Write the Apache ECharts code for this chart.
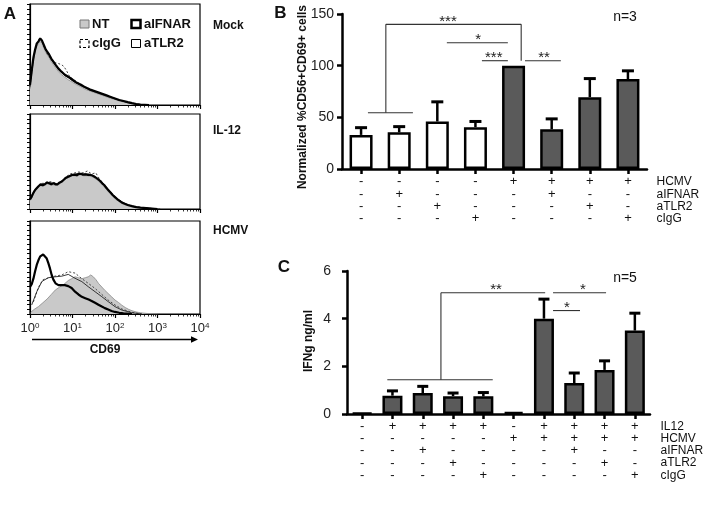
<!DOCTYPE html>
<html><head><meta charset="utf-8">
<script src="https://cdn.jsdelivr.net/npm/echarts@6.0.0/dist/echarts.min.js"></script>
<style>html,body{margin:0;padding:0;background:#fff}#c{width:708px;height:505px}</style>
</head><body><div id="c"></div>
<script>
// ---------- Panel A: flow histograms (x = log10 CD69 decade, y = % of panel height) ----------
const decadeTicks = [0, 1, 2, 3, 4];
const histNames = ['NT', 'aIFNAR', 'cIgG', 'aTLR2'];
const panelLabels = ['Mock', 'IL-12', 'HCMV'];

const mockNT = [[0,16],[0.04,30],[0.08,43],[0.12,52],[0.16,58],[0.2,61],[0.24,63],[0.28,61],[0.32,57],[0.36,53],[0.4,50],[0.45,47],[0.5,43],[0.55,40],[0.6,37],[0.67,33],[0.74,30],[0.82,27.5],[0.9,25],[1.0,22.5],[1.1,20],[1.2,18],[1.3,15.5],[1.4,14],[1.5,12.5],[1.6,11],[1.7,9.5],[1.8,8],[1.9,6.5],[2.0,5.5],[2.1,4],[2.2,3],[2.3,2],[2.4,1.2],[2.5,0.6],[2.7,0]];
const mockIFNAR = [[0,20],[0.04,34],[0.08,47],[0.12,55],[0.16,61],[0.2,63],[0.24,66],[0.28,64],[0.32,60],[0.36,56],[0.4,53],[0.45,50],[0.5,46],[0.55,43],[0.6,40],[0.67,36],[0.74,33],[0.82,30],[0.9,28],[1.0,25],[1.1,22],[1.2,20],[1.3,17.5],[1.4,15.5],[1.5,14],[1.6,12.5],[1.7,11],[1.8,9.5],[1.9,8],[2.0,6.5],[2.1,5],[2.2,4],[2.3,2.8],[2.4,1.8],[2.5,1],[2.6,0.5],[2.8,0]];
const mockIgG = [[0,18],[0.04,32],[0.08,45],[0.12,54],[0.16,60],[0.2,64],[0.24,67],[0.28,63],[0.32,58],[0.36,55],[0.4,51],[0.45,48],[0.5,45],[0.55,44],[0.6,42],[0.67,41],[0.74,40],[0.8,38],[0.86,34],[0.92,29],[1.0,26],[1.1,23],[1.2,20],[1.3,18],[1.4,16],[1.5,14],[1.6,12.5],[1.7,11],[1.8,9.5],[1.9,8],[2.0,6.5],[2.1,5],[2.2,3.5],[2.3,2.5],[2.4,1.5],[2.5,1],[2.7,0]];
const mockTLR2 = [[0,19],[0.04,33],[0.08,46],[0.12,54],[0.16,60],[0.2,63],[0.24,65],[0.28,63],[0.32,59],[0.36,55],[0.4,52],[0.45,49],[0.5,45],[0.55,42],[0.6,39],[0.67,35],[0.74,32],[0.82,29],[0.9,27],[1.0,24],[1.1,21.5],[1.2,19],[1.3,17],[1.4,15],[1.5,13.5],[1.6,12],[1.7,10.5],[1.8,9],[1.9,7.5],[2.0,6],[2.1,4.8],[2.2,3.6],[2.3,2.5],[2.4,1.6],[2.5,0.9],[2.7,0]];

const il12NT = [[0,9],[0.04,12],[0.08,16],[0.12,19],[0.16,21],[0.2,23],[0.25,24.5],[0.3,24],[0.35,25],[0.4,26.5],[0.45,26],[0.5,25],[0.55,25.5],[0.6,25],[0.65,25],[0.7,26.5],[0.75,28],[0.8,30],[0.85,32],[0.9,33],[0.95,34],[1.0,35],[1.05,35],[1.1,34.5],[1.15,35.5],[1.2,36],[1.25,35],[1.3,35],[1.35,35],[1.4,34.5],[1.45,34],[1.5,33],[1.55,31.5],[1.6,30],[1.65,28],[1.7,25.5],[1.75,23.5],[1.8,20.5],[1.85,18],[1.9,15.5],[1.95,13],[2.0,11],[2.05,9.2],[2.1,7.6],[2.15,6.2],[2.2,5],[2.3,3.5],[2.4,2.4],[2.5,1.6],[2.6,1],[2.8,0.4],[3.0,0]];
const il12IFNAR = [[0,10],[0.04,13],[0.08,17],[0.12,20],[0.16,22],[0.2,24],[0.25,26],[0.3,25],[0.35,26],[0.4,28],[0.45,27],[0.5,26],[0.55,27],[0.6,26],[0.65,26],[0.7,28],[0.75,29],[0.8,31],[0.85,33],[0.9,34],[0.95,35],[1.0,36],[1.05,36],[1.1,35.5],[1.15,37],[1.2,37],[1.25,36],[1.3,36.5],[1.35,36],[1.4,36],[1.45,35.5],[1.5,34.5],[1.55,33],[1.6,31.5],[1.65,29.5],[1.7,27],[1.75,25],[1.8,22],[1.85,19.5],[1.9,17],[1.95,14.5],[2.0,12.5],[2.05,10.5],[2.1,8.8],[2.15,7.2],[2.2,6],[2.3,4.2],[2.4,3],[2.5,2],[2.6,1.4],[2.8,0.7],[3.0,0]];
const il12IgG = [[0,11],[0.08,18],[0.16,23],[0.25,27],[0.35,27],[0.45,29],[0.55,28],[0.65,27],[0.75,30],[0.85,34],[0.95,37],[1.05,38],[1.15,39],[1.25,38],[1.35,40],[1.45,37],[1.55,38],[1.6,34],[1.7,28],[1.8,23],[1.9,18],[2.0,13],[2.1,9.5],[2.2,6.5],[2.3,4.5],[2.4,3.2],[2.5,2.2],[2.65,1.3],[2.9,0.5],[3.1,0]];
const il12TLR2 = [[0,10.5],[0.08,17.5],[0.16,22.5],[0.25,26],[0.35,26.5],[0.45,28],[0.55,27],[0.65,26.5],[0.75,29],[0.85,33.5],[0.95,35.5],[1.05,37],[1.15,37.5],[1.25,37],[1.35,37],[1.45,36],[1.55,33.5],[1.65,30],[1.75,25.5],[1.85,20],[1.95,15],[2.05,11],[2.15,7.8],[2.25,5.5],[2.35,3.8],[2.45,2.6],[2.6,1.5],[2.8,0.8],[3.0,0]];

const hcmvNT = [[0.02,2],[0.1,5],[0.2,8],[0.3,12],[0.4,16],[0.5,21],[0.6,26],[0.7,29],[0.8,32],[0.9,36],[0.98,38],[1.06,40],[1.14,39],[1.22,38],[1.3,39],[1.37,40],[1.43,42],[1.49,40],[1.55,37],[1.61,33],[1.69,29],[1.76,25.5],[1.84,22],[1.92,18.5],[2.0,15],[2.08,12.5],[2.16,9.5],[2.24,7],[2.32,5],[2.4,3.5],[2.5,2.2],[2.6,1.3],[2.75,0.6],[3.0,0]];
const hcmvIFNAR = [[0,29],[0.04,32],[0.08,38],[0.12,46],[0.16,53],[0.2,58],[0.24,62],[0.28,63],[0.31,64],[0.35,62],[0.39,60],[0.43,55],[0.47,49],[0.51,42],[0.55,37],[0.6,33],[0.67,31],[0.74,31],[0.82,31],[0.9,30],[0.98,28],[1.06,24],[1.14,21],[1.22,18.5],[1.3,17],[1.38,15.5],[1.45,14],[1.53,12],[1.61,10],[1.69,8],[1.76,6.3],[1.84,4.8],[1.92,3.3],[2.0,2.2],[2.1,1.3],[2.2,0.7],[2.4,0]];
const hcmvIgG = [[0.08,13],[0.2,29],[0.31,37],[0.51,40],[0.62,41],[0.75,42],[0.9,45.5],[1.06,44],[1.22,38],[1.37,33],[1.53,27.5],[1.69,21],[1.84,15],[2.0,9.7],[2.16,5.4],[2.39,1.8],[2.63,0]];
const hcmvTLR2 = [[0.04,9.7],[0.16,24],[0.28,35],[0.43,39],[0.59,40],[0.75,40.7],[0.9,42.6],[1.06,38.4],[1.22,34.8],[1.37,29.4],[1.53,24],[1.69,18.6],[1.84,13.3],[2.0,7.9],[2.16,4.3],[2.39,1.4],[2.63,0]];

// ---------- Panel B ----------
const bCats = ['1','2','3','4','5','6','7','8'];
const bValues = [33, 35.5, 46, 40.5, 100, 38.5, 69.5, 87];
const bErrTop = [40, 41, 65, 46, null, 48.5, 87.5, 95];
const bOpen = [true, true, true, true, false, false, false, false];
const bRowNames = ['HCMV', 'aIFNAR', 'aTLR2', 'cIgG'];
const bRows = [
  ['-','-','-','-','+','+','+','+'],
  ['-','+','-','-','-','+','-','-'],
  ['-','-','+','-','-','-','+','-'],
  ['-','-','-','+','-','-','-','+']
];
// significance brackets: [x1, y1, x2, y2] in (category position 0..8, value)
const bSig = [
  [0.68, 54.5, 1.86, 54.5],
  [1.15, 54.5, 1.15, 140],
  [1.15, 140, 4.70, 140],
  [4.70, 140, 4.70, 104.8],
  [2.75, 122.2, 4.35, 122.2],
  [3.67, 104.8, 4.35, 104.8],
  [4.80, 104.8, 5.74, 104.8]
];
const bStars = [['***', 2.78, 140], ['*', 3.57, 122.2], ['***', 3.98, 104.8], ['**', 5.30, 104.8]];

// ---------- Panel C ----------
const cCats = ['1','2','3','4','5','6','7','8','9','10'];
const cValues = [0.04, 0.77, 0.88, 0.75, 0.74, 0.08, 4.0, 1.3, 1.85, 3.5];
const cErrTop = [null, 0.97, 1.16, 0.88, 0.9, null, 4.82, 1.72, 2.23, 4.23];
const cRowNames = ['IL12', 'HCMV', 'aIFNAR', 'aTLR2', 'cIgG'];
const cRows = [
  ['-','+','+','+','+','-','+','+','+','+'],
  ['-','-','-','-','-','+','+','+','+','+'],
  ['-','-','+','-','-','-','-','+','-','-'],
  ['-','-','-','+','-','-','-','-','+','-'],
  ['-','-','-','-','+','-','-','-','-','+']
];
const cSig = [
  [1.33, 1.436, 4.81, 1.436],
  [3.10, 1.436, 3.10, 5.09],
  [3.10, 5.09, 6.54, 5.09],
  [6.80, 5.09, 8.55, 5.09],
  [6.80, 4.34, 7.69, 4.34]
];
const cStars = [['**', 4.92, 5.09], ['*', 7.79, 5.09], ['*', 7.26, 4.34]];

// ---------- build ----------
const FONT = 'Liberation Sans, Arial, Helvetica, sans-serif';
const DARK = '#5a5a5a';
const minorTicks = [];
for (let d = 0; d < 4; d++) for (let k = 2; k <= 9; k++) minorTicks.push(d + Math.log10(k));

const aGrids = [
  {left: 30, top: 4, width: 170, height: 101},
  {left: 30, top: 114, width: 170, height: 95},
  {left: 30, top: 221, width: 170, height: 93}
];
const histData = [
  [mockNT, mockIFNAR, mockIgG, mockTLR2],
  [il12NT, il12IFNAR, il12IgG, il12TLR2],
  [hcmvNT, hcmvIFNAR, hcmvIgG, hcmvTLR2]
];

const grid = aGrids.map(g => Object.assign({show: true, borderColor: '#000', borderWidth: 1.2, backgroundColor: 'transparent'}, g));
grid.push({left: 342, top: 14, width: 305, height: 155});
grid.push({left: 347, top: 271, width: 303, height: 143});

const xAxis = [], yAxis = [], series = [];
for (let i = 0; i < 3; i++) {
  xAxis.push({
    gridIndex: i, type: 'value', min: 0, max: 4, interval: 1, position: 'bottom',
    axisLine: {show: true, onZero: false, lineStyle: {color: '#000', width: 1.2}},
    axisTick: {show: true, customValues: decadeTicks, length: 4, lineStyle: {color: '#000', width: 1.2}},
    axisLabel: i === 2 ? {
      show: true, customValues: decadeTicks, margin: 8,
      formatter: v => '{b|10}{s|' + v + '}',
      rich: {b: {fontSize: 13, fontFamily: FONT, color: '#222'}, s: {fontSize: 8, fontFamily: FONT, color: '#222', verticalAlign: 'top'}}
    } : {show: false},
    splitLine: {show: false}
  });
}
for (let i = 0; i < 3; i++) {
  xAxis.push({
    gridIndex: i, type: 'value', min: 0, max: 4, position: 'bottom',
    axisLine: {show: false, onZero: false},
    axisTick: {show: true, customValues: minorTicks, length: 2.5, lineStyle: {color: '#000', width: 0.8}},
    axisLabel: {show: false}, splitLine: {show: false}
  });
}
for (let i = 0; i < 3; i++) {
  yAxis.push({
    gridIndex: i, type: 'value', min: 0, max: 100, interval: 5,
    axisLine: {show: true, lineStyle: {color: '#000', width: 1.2}},
    axisTick: {show: true, length: 3, lineStyle: {color: '#000', width: 1}},
    axisLabel: {show: false}, splitLine: {show: false}
  });
  const [nt, ifnar, igg, tlr2] = histData[i];
  const base = {type: 'line', xAxisIndex: i, yAxisIndex: i, showSymbol: false, symbol: 'none', silent: true};
  series.push(Object.assign({}, base, {name: 'NT', data: nt, lineStyle: {color: '#8a8a8a', width: 0.8}, areaStyle: {color: '#c9c9c9', opacity: 1}, z: 1}));
  series.push(Object.assign({}, base, {name: 'cIgG', data: igg, lineStyle: {color: '#333', width: 0.9, type: [2, 2]}, z: 2}));
  series.push(Object.assign({}, base, {name: 'aTLR2', data: tlr2, lineStyle: {color: '#222', width: 0.9}, z: 3}));
  series.push(Object.assign({}, base, {name: 'aIFNAR', data: ifnar, lineStyle: {color: '#000', width: 2.2}, z: 4}));
}

function barPanel(cfg) {
  const xi = xAxis.length, yi = yAxis.length;
  xAxis.push({
    gridIndex: cfg.gridIndex, type: 'category', data: cfg.cats,
    axisLine: {show: true, lineStyle: {color: '#000', width: 2.5}},
    axisTick: {show: true, alignWithLabel: true, length: 5, lineStyle: {color: '#000', width: 2.5}},
    axisLabel: {
      interval: 0, margin: cfg.labelMargin, fontSize: 13, fontFamily: FONT, color: '#111',
      lineHeight: cfg.lineHeight,
      formatter: (v, idx) => cfg.rows.map(r => r[idx]).join('\n')
    },
    splitLine: {show: false}
  });
  xAxis.push({gridIndex: cfg.gridIndex, type: 'value', min: 0, max: cfg.cats.length, show: false});
  yAxis.push({
    gridIndex: cfg.gridIndex, type: 'value', min: 0, max: cfg.max, interval: cfg.interval,
    axisLine: {show: true, lineStyle: {color: '#000', width: 2.5}},
    axisTick: {show: true, length: 5, lineStyle: {color: '#000', width: 2.5}},
    axisLabel: {fontSize: 14, fontFamily: FONT, color: '#222', margin: cfg.yLabelMargin},
    splitLine: {show: false}
  });
  series.push({
    type: 'bar', xAxisIndex: xi, yAxisIndex: yi, barWidth: cfg.barWidth, silent: true,
    data: cfg.values.map((v, i) => ({value: v, itemStyle: {color: cfg.open && cfg.open[i] ? '#fff' : DARK}})),
    itemStyle: {borderColor: '#000', borderWidth: 2.5}, z: 2
  });
  series.push({
    type: 'custom', xAxisIndex: xi, yAxisIndex: yi, silent: true, z: 3,
    data: cfg.values.map((v, i) => [i, v, cfg.errTop[i] == null ? v : cfg.errTop[i]]),
    encode: {x: 0, y: [1, 2]},
    renderItem: (params, api) => {
      const i = api.value(0), v = api.value(1), e = api.value(2);
      if (!(e > v)) return null;
      const p0 = api.coord([i, v]), p1 = api.coord([i, e]);
      return {type: 'group', children: [
        {type: 'line', shape: {x1: p0[0], y1: p0[1], x2: p1[0], y2: p1[1]}, style: {stroke: '#000', lineWidth: 2.5}},
        {type: 'line', shape: {x1: p1[0] - cfg.capW / 2, y1: p1[1], x2: p1[0] + cfg.capW / 2, y2: p1[1]}, style: {stroke: '#000', lineWidth: 3}}
      ]};
    }
  });
  series.push({
    type: 'custom', xAxisIndex: xi + 1, yAxisIndex: yi, silent: true, z: 4,
    data: cfg.sig, encode: {x: [0, 2], y: [1, 3]},
    renderItem: (params, api) => {
      const a = api.coord([api.value(0), api.value(1)]), b = api.coord([api.value(2), api.value(3)]);
      return {type: 'line', shape: {x1: a[0], y1: a[1], x2: b[0], y2: b[1]}, style: {stroke: '#333', lineWidth: 1.1}};
    }
  });
  series.push({
    type: 'custom', xAxisIndex: xi + 1, yAxisIndex: yi, silent: true, z: 5,
    data: cfg.stars.map(s => [s[1], s[2]]), encode: {x: 0, y: 1},
    renderItem: (params, api) => {
      const a = api.coord([api.value(0), api.value(1)]);
      return {type: 'text', x: a[0], y: a[1] + 5, style: {text: cfg.stars[params.dataIndex][0], font: '15px ' + FONT, fill: '#222', textAlign: 'center', textVerticalAlign: 'bottom'}};
    }
  });
}
barPanel({gridIndex: 3, cats: bCats, values: bValues, errTop: bErrTop, open: bOpen, rows: bRows, sig: bSig, stars: bStars,
  max: 150, interval: 50, barWidth: 23, capW: 12, labelMargin: 6.5, lineHeight: 12.4, yLabelMargin: 8});
barPanel({gridIndex: 4, cats: cCats, values: cValues, errTop: cErrTop, open: null, rows: cRows, sig: cSig, stars: cStars,
  max: 6, interval: 2, barWidth: 20, capW: 11, labelMargin: 6.3, lineHeight: 12.2, yLabelMargin: 16});

// ---------- text / decorations ----------
const T = (text, x, y, size, bold, align, extra) => Object.assign({
  type: 'text', x: x, y: y,
  style: {text: text, font: (bold ? 'bold ' : '') + size + 'px ' + FONT, fill: '#111', textAlign: align || 'left', textVerticalAlign: 'middle'}
}, extra || {});
const graphic = [
  T('A', 10, 14.5, 17, true, 'center'),
  T('B', 280.5, 13, 17, true, 'center'),
  T('C', 284, 267.5, 17, true, 'center'),
  T(panelLabels[0], 213, 25.5, 12, true),
  T(panelLabels[1], 213, 131, 12, true),
  T(panelLabels[2], 213, 231, 12, true),
  T('CD69', 105, 349.5, 12, true, 'center'),
  T('n=3', 625, 17, 14, false, 'center'),
  T('n=5', 625, 278, 14, false, 'center'),
  T('Normalized %CD56+CD69+ cells', 303, 97, 12, true, 'center', {rotation: Math.PI / 2}),
  T('IFNg ng/ml', 309, 341, 12, true, 'center', {rotation: Math.PI / 2}),
  // legend of panel A
  {type: 'rect', shape: {x: 80, y: 20, width: 9, height: 8}, style: {fill: '#c9c9c9', stroke: '#777', lineWidth: 1}},
  T(histNames[0], 92, 24, 13, true),
  {type: 'rect', shape: {x: 131.5, y: 20, width: 9, height: 8}, style: {fill: '#fff', stroke: '#000', lineWidth: 2.5}},
  T(histNames[1], 144, 24, 13, true),
  {type: 'rect', shape: {x: 80, y: 39.5, width: 9, height: 8}, style: {fill: '#fff', stroke: '#000', lineWidth: 1.2, lineDash: [3, 2]}},
  T(histNames[2], 92, 43.5, 13, true),
  {type: 'rect', shape: {x: 131.5, y: 39.5, width: 9, height: 8}, style: {fill: '#fff', stroke: '#000', lineWidth: 1}},
  T(histNames[3], 144, 43.5, 13, true),
  // CD69 arrow
  {type: 'line', shape: {x1: 32, y1: 339.5, x2: 192, y2: 339.5}, style: {stroke: '#000', lineWidth: 1.5}},
  {type: 'polygon', shape: {points: [[191, 336.3], [198, 339.5], [191, 342.7]]}, style: {fill: '#000'}}
];
const bRowY = [181.7, 194.5, 206.8, 219];
bRowNames.forEach((n, i) => graphic.push(T(n, 656.5, bRowY[i], 12, false)));
const cRowY = [426.7, 438.9, 451, 463, 475.3];
cRowNames.forEach((n, i) => graphic.push(T(n, 660.5, cRowY[i], 12, false)));

const chart = echarts.init(document.getElementById('c'), null, {renderer: 'canvas'});
chart.setOption({
  animation: false,
  backgroundColor: '#fff',
  textStyle: {fontFamily: FONT},
  grid: grid, xAxis: xAxis, yAxis: yAxis, series: series, graphic: graphic
});
</script>
</body></html>
